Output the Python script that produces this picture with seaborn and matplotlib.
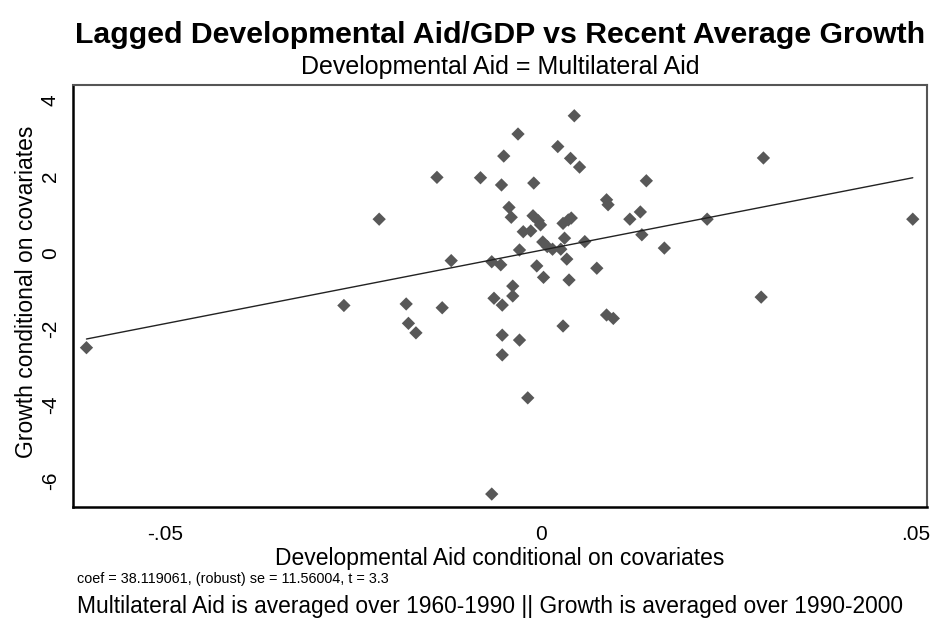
import matplotlib
matplotlib.use("Agg")
import matplotlib.pyplot as plt
import seaborn as sns
import pandas as pd

# ------------------------------------------------------------
# Data
# ------------------------------------------------------------
aid_resid = [
    -0.0605, -0.0262, -0.0215, -0.0179, -0.0176, -0.0166, -0.0138, -0.0131,
    -0.0119, -0.0080, -0.0065, -0.0065, -0.0053, -0.0062, -0.0051, -0.0051,
    -0.0051, -0.0049, -0.0052, -0.0042, -0.0039, -0.0037, -0.0037, -0.0030,
    -0.0028, -0.0028, -0.0023, -0.0013, -0.0017, -0.0010, -0.0003, 0.0000,
    -0.0009, -0.0005, 0.0003, 0.0009, 0.0016, 0.0004, 0.0023, 0.0027,
    0.0030, 0.0037, 0.0041, 0.0032, 0.0035, 0.0038, 0.0030, 0.0040,
    0.0045, 0.0052, 0.0059, 0.0075, 0.0088, 0.0090, 0.0088, 0.0097,
    0.0119, 0.0133, 0.0135, 0.0141, 0.0165, 0.0222, 0.0294, 0.0297,
    0.0496,
]
growth_resid = [
    -2.50, -1.39, 0.88, -1.35, -1.86, -2.11, 1.98, -1.45,
    -0.21, 1.97, -6.35, -0.24, -0.32, -1.20, -1.38, -2.17,
    -2.69, 2.54, 1.78, 1.19, 0.93, -0.88, -1.14, 3.12,
    0.07, -2.30, 0.55, 0.57, -3.82, 0.97, 0.84, 0.73,
    1.83, -0.35, 0.28, 0.16, 0.09, -0.65, 2.79, 0.09,
    0.77, 0.86, 0.91, 0.38, -0.17, -0.72, -1.93, 2.48,
    3.60, 2.25, 0.29, -0.41, 1.39, 1.26, -1.64, -1.73,
    0.88, 1.07, 0.47, 1.89, 0.12, 0.88, -1.17, 2.49,
    0.88,
]

x_ticks = [-0.05, 0, 0.05]
x_tick_labels = ["-.05", "0", ".05"]
y_ticks = [-6, -4, -2, 0, 2, 4]

df = pd.DataFrame({"aid": aid_resid, "growth": growth_resid})

# ------------------------------------------------------------
# Plot
# ------------------------------------------------------------
sns.set_style("white")
plt.rcParams["font.family"] = ["Liberation Sans", "DejaVu Sans"]
plt.rcParams["text.color"] = "black"
plt.rcParams["axes.labelcolor"] = "black"

fig = plt.figure(figsize=(9.33, 6.29), dpi=100)
ax = fig.add_axes([0.0782, 0.194, 0.9154, 0.6709])

sns.regplot(
    data=df, x="aid", y="growth", ax=ax, ci=None, truncate=True,
    marker="D",
    scatter_kws={"s": 46, "color": "#585858", "edgecolor": "none", "alpha": 1},
    line_kws={"color": "#222222", "linewidth": 1.0},
)

ax.set_xlim(-0.0623, 0.0515)
ax.set_ylim(-6.69, 4.41)
ax.set_xticks(x_ticks)
ax.set_xticklabels(x_tick_labels)
ax.set_yticks(y_ticks)
ax.set_yticklabels([str(v) for v in y_ticks], rotation=90, va="center")
ax.tick_params(axis="both", direction="out", length=7, width=1.2,
               color="#222222", labelsize=15, labelcolor="black")
ax.tick_params(axis="x", pad=6)
ax.tick_params(axis="y", pad=2.5)

for side in ["left", "bottom"]:
    ax.spines[side].set_color("black")
    ax.spines[side].set_linewidth(1.8)
for side in ["top", "right"]:
    ax.spines[side].set_color("#555555")
    ax.spines[side].set_linewidth(1.5)

ax.set_xlabel("Developmental Aid conditional on covariates", fontsize=16.5)
ax.xaxis.set_label_coords(0.5, -0.094)
ax.set_ylabel("Growth conditional on covariates", fontsize=16.5)
ax.yaxis.set_label_coords(-0.041, 0.51)

cx = 0.536
fig.text(cx, 0.945, "Lagged Developmental Aid/GDP vs Recent Average Growth",
         ha="center", va="center", fontsize=21.8, fontweight="bold")
fig.text(cx, 0.893, "Developmental Aid = Multilateral Aid",
         ha="center", va="center", fontsize=18)
fig.text(0.0825, 0.079, "coef = 38.119061, (robust) se = 11.56004, t = 3.3",
         ha="left", va="center", fontsize=10.4)
fig.text(0.0825, 0.036,
         "Multilateral Aid is averaged over 1960-1990 || Growth is averaged over 1990-2000",
         ha="left", va="center", fontsize=16.4)

plt.savefig("out.png", dpi=100)
